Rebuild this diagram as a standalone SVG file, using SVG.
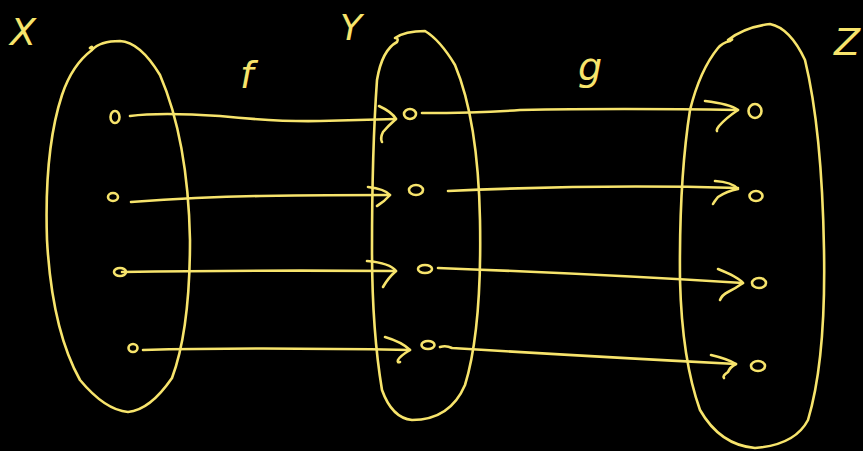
<svg xmlns="http://www.w3.org/2000/svg" width="863" height="451" viewBox="0 0 863 451">
<style>
.s{fill:none;stroke:#f7e46c;stroke-width:2.6;stroke-linecap:round;stroke-linejoin:round}
.t{fill:#f7e46c;font-family:"DejaVu Sans",sans-serif;font-weight:300;font-style:italic}
</style>
<rect width="863" height="451" fill="#000"/>
<g id="labels">
<text class="t" x="10" y="45" font-size="38">X</text>
<text class="t" x="340" y="40" font-size="36">Y</text>
<text class="t" x="834" y="55" font-size="38">Z</text>
<text class="t" x="240" y="88" font-size="38">f</text>
<text class="t" x="578" y="80" font-size="38">g</text>
</g>
<g id="setX">
<path class="s" d="M90,48 Q93,45 92,50 Q100,41 120,41 Q140,42 160,75 Q188,140 190,240 Q190,330 172,378 Q150,410 128,412 Q105,410 80,380 Q52,330 47,240 Q44,150 62,95 Q72,65 92,50"/>
<ellipse class="s" cx="115" cy="117" rx="4.5" ry="6"/>
<ellipse class="s" cx="113" cy="197" rx="5" ry="4"/>
<ellipse class="s" cx="120" cy="272" rx="6" ry="4"/>
<ellipse class="s" cx="133" cy="348" rx="4.5" ry="4"/>
</g>
<g id="setY">
<path class="s" d="M397,42 Q399,38 395,38 Q405,31 425,31 Q440,40 455,65 Q478,120 480,220 Q482,330 465,385 Q450,420 412,420 Q392,418 382,390 Q372,330 372,250 Q372,150 377,80 Q382,50 397,42"/>
<ellipse class="s" cx="410" cy="114" rx="6" ry="5"/>
<ellipse class="s" cx="416" cy="190" rx="7" ry="5"/>
<ellipse class="s" cx="425" cy="269" rx="7" ry="4"/>
<ellipse class="s" cx="428" cy="345" rx="6.5" ry="4"/>
</g>
<g id="setZ">
<path class="s" d="M730,41 Q735,38 728,40 Q745,27 770,24 Q790,28 805,60 Q822,130 824,250 Q826,360 808,420 Q795,445 755,448 Q720,445 700,410 Q682,360 680,280 Q679,180 690,110 Q700,70 718,48 Q722,43 730,41"/>
<ellipse class="s" cx="755" cy="111" rx="6.5" ry="7"/>
<ellipse class="s" cx="756" cy="196" rx="6.5" ry="5"/>
<ellipse class="s" cx="759" cy="283" rx="7" ry="5"/>
<ellipse class="s" cx="758" cy="366" rx="7" ry="5"/>
</g>
<g id="connectors">
<path class="s" d="M130,116 Q160,112 220,116 Q280,122 320,121 Q360,120 396,119"/>
<path class="s" d="M379,106 Q392,112 396,119 Q388,126 383,132 Q380,138 382,142"/>
<path class="s" d="M131,202 Q200,197 260,196 Q330,195 390,195"/>
<path class="s" d="M368,187 Q385,189 390,195 Q384,202 377,206"/>
<path class="s" d="M122,272 Q250,270 396,271"/>
<path class="s" d="M367,261 Q390,263 396,271 Q388,278 383,287"/>
<path class="s" d="M143,350 Q250,347 410,350"/>
<path class="s" d="M385,337 Q402,342 410,350 Q400,356 398,360 Q397,363 400,362"/>
<path class="s" d="M422,113 Q480,113 520,110 Q620,108 738,110"/>
<path class="s" d="M705,101 Q730,104 738,110 Q726,118 719,126 Q716,130 717,131"/>
<path class="s" d="M448,191 Q600,184 738,188"/>
<path class="s" d="M715,181 Q732,182 738,189 Q727,191 718,197 Q714,202 713,204"/>
<path class="s" d="M438,268 Q600,274 743,283"/>
<path class="s" d="M718,269 Q738,277 743,283 Q736,288 728,292 Q722,295 720,300"/>
<path class="s" d="M440,347 Q446,345 452,348 Q600,357 736,364"/>
<path class="s" d="M711,355 Q728,359 736,364 Q730,367 728,372 Q722,376 724,378"/>
</g>
</svg>
